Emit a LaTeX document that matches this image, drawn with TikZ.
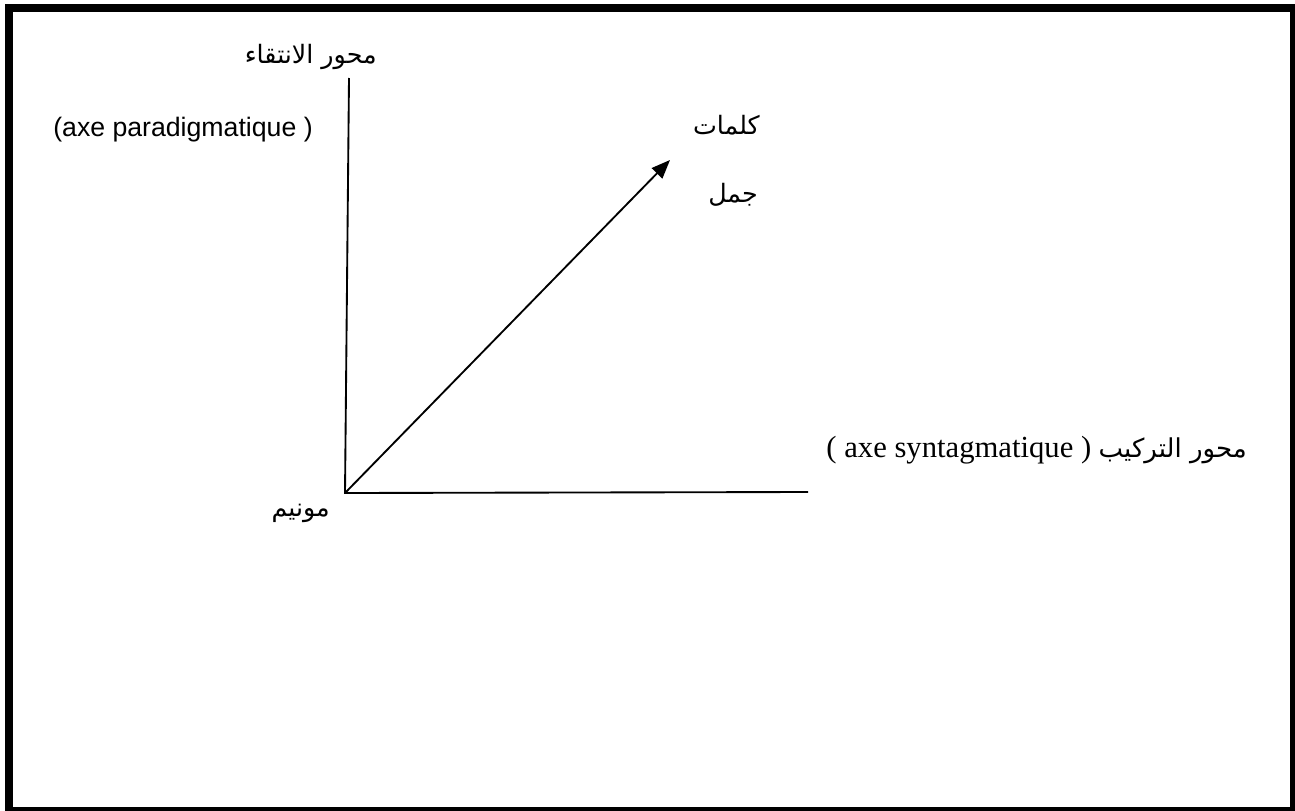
\documentclass[tikz,border=0pt]{standalone}
\usepackage{fontspec}
\setmainfont{Liberation Sans}
\newfontfamily\arabicfont[Script=Arabic]{DejaVu Sans}
\newfontfamily\timesfont{Liberation Serif}
\TeXXeTstate=1
\usetikzlibrary{arrows.meta}

\begin{document}
\begin{tikzpicture}[>=Stealth,x=0.75pt,y=-0.75pt,
  axis/.style={line width=1.4pt},
  ar/.style={font=\arabicfont\fontsize{19}{22}\selectfont,inner sep=0pt,anchor=east},
  lat/.style={font=\fontsize{20}{24}\selectfont,inner sep=0pt}]
  \useasboundingbox (0,0) rectangle (1295,810);
  \draw[line width=6pt] (9,8) rectangle (1294,811);
  % axes
  \coordinate (O) at (345,493);
  \coordinate (top) at (349,78);
  \coordinate (right) at (808,492);
  \coordinate (tip) at (670,160);
  \draw[axis] (top) -- (O) -- (right);
  \draw[axis,-{Triangle[length=14pt,width=11pt]}] (O) -- (tip);
  % labels
  \node[ar] (selax) at (377,57) {\beginR محور الانتقاء\endR};
  \node[lat] (parad) at (183,130) {(axe paradigmatique )};
  \node[ar] (words) at (760,125) {\beginR كلمات\endR};
  \node[ar] (sent) at (758,195) {\beginR جمل\endR};
  \node[lat,anchor=east] (syntax) at (1247,450) {{\timesfont\fontsize{23}{26}\selectfont ( axe syntagmatique )} {\arabicfont\fontsize{19.5}{22}\selectfont\beginR محور التركيب\endR}};
  \node[ar] (moneme) at (330,513) {\beginR مونيم\endR};
\end{tikzpicture}
\end{document}
